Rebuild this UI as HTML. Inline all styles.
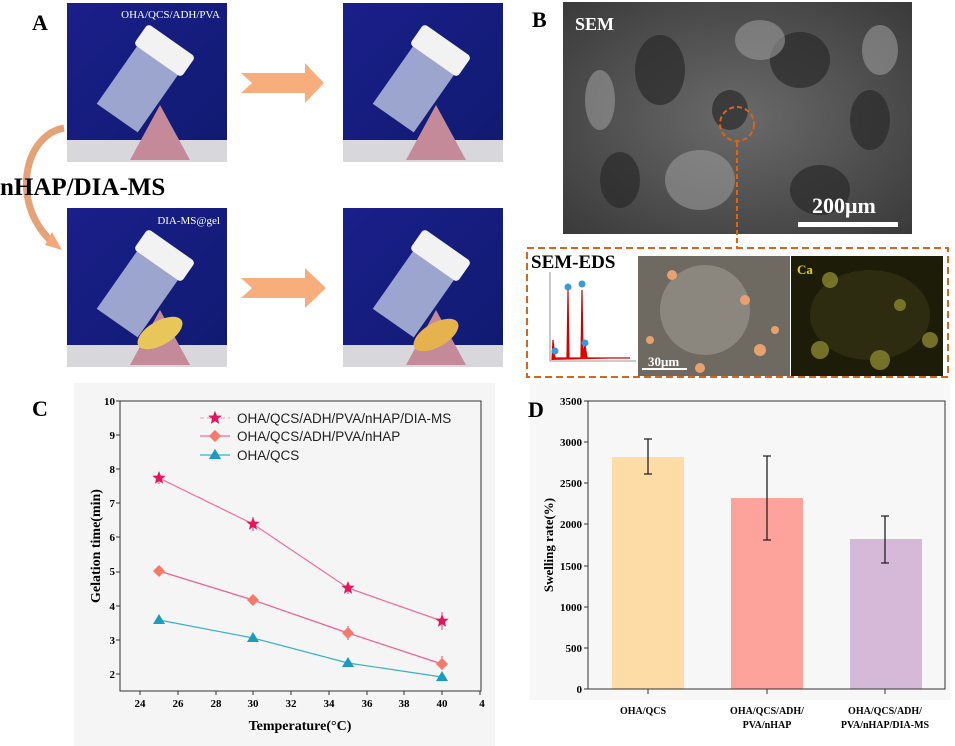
<!DOCTYPE html><html><head><style>body{margin:0;background:#fff}svg{display:block}</style></head><body>
<svg width="955" height="746" viewBox="0 0 955 746" xmlns="http://www.w3.org/2000/svg" font-family="Liberation Serif, serif">
<defs>
<linearGradient id="blue" x1="0" y1="0" x2="1" y2="1"><stop offset="0" stop-color="#1a1f8a"/><stop offset="1" stop-color="#101a70"/></linearGradient>
<radialGradient id="sem" cx="0.5" cy="0.5" r="0.7"><stop offset="0" stop-color="#6a6a6a"/><stop offset="1" stop-color="#3a3a3a"/></radialGradient>
<polygon id="st" fill="#e8135f" points="0,-7 1.8,-2.4 6.7,-2.2 2.9,0.9 4.1,5.7 0,3 -4.1,5.7 -2.9,0.9 -6.7,-2.2 -1.8,-2.4"/>
<g id="ph">
<rect x="67" y="3" width="160" height="159" fill="url(#blue)"/>
<rect x="67" y="140" width="160" height="22" fill="#d8d8dc"/>
<polygon points="130,160 160,105 190,160" fill="#c48a9a"/>
<g transform="rotate(35 150 80)"><rect x="120" y="55" width="50" height="75" fill="#c9d3ea" opacity="0.75"/><rect x="116" y="35" width="58" height="25" rx="4" fill="#f2f2f2"/></g>
</g>
</defs>
<rect width="955" height="746" fill="#fff"/>
<!-- Panel A -->
<text x="32" y="30" font-size="22" font-weight="bold">A</text>
<use href="#ph"/>
<use href="#ph" x="276" y="0"/>
<use href="#ph" x="0" y="205"/>
<use href="#ph" x="276" y="205"/>
<ellipse cx="160" cy="333" rx="25" ry="12" fill="#e8c65a" transform="rotate(-30 160 333)"/>
<ellipse cx="436" cy="335" rx="25" ry="12" fill="#e5b24e" transform="rotate(-30 436 335)"/>
<text x="220" y="18" font-size="11" fill="#fff" text-anchor="end">OHA/QCS/ADH/PVA</text>
<text x="220" y="224" font-size="11" fill="#fff" text-anchor="end">DIA-MS@gel</text>
<polygon points="241,73 305,73 305,63 324,83 305,103 305,93 241,93 252,83" fill="#f7ae7c"/>
<polygon points="241,278 305,278 305,268 326,288 305,308 305,298 241,298 252,288" fill="#f7ae7c"/>
<path d="M64,128 C25,135 10,200 50,240" stroke="#e4a276" stroke-width="7" fill="none"/>
<polygon points="45,245 62,250 52,232" fill="#f5a87a"/>
<text x="0" y="195" font-size="25" font-weight="bold">nHAP/DIA-MS</text>
<!-- Panel B -->
<text x="532" y="27" font-size="22" font-weight="bold">B</text>
<rect x="563" y="2" width="349" height="232" fill="url(#sem)"/>
<g fill="#2a2a2a" opacity="0.7"><ellipse cx="660" cy="70" rx="25" ry="35"/><ellipse cx="800" cy="60" rx="30" ry="28"/><ellipse cx="870" cy="120" rx="20" ry="30"/><ellipse cx="730" cy="110" rx="18" ry="20"/><ellipse cx="820" cy="190" rx="30" ry="25"/><ellipse cx="620" cy="180" rx="20" ry="28"/></g>
<g fill="#9a9a9a" opacity="0.6"><ellipse cx="700" cy="180" rx="35" ry="30"/><ellipse cx="760" cy="40" rx="25" ry="20"/><ellipse cx="880" cy="50" rx="18" ry="25"/><ellipse cx="600" cy="100" rx="15" ry="30"/></g>
<text x="575" y="30" font-size="18" font-weight="bold" fill="#fff">SEM</text>
<text x="812" y="213" font-size="22" font-weight="bold" fill="#fff">200μm</text>
<rect x="798" y="222" width="100" height="5" fill="#fff"/>
<circle cx="737" cy="124" r="17" fill="none" stroke="#d8651e" stroke-width="2" stroke-dasharray="5,3"/>
<path d="M737,142 V247" stroke="#d8651e" stroke-width="2" stroke-dasharray="5,3"/>
<rect x="527" y="248" width="421" height="129" fill="none" stroke="#d8651e" stroke-width="2" stroke-dasharray="7,4"/>
<text x="531" y="268" font-size="19" font-weight="bold">SEM-EDS</text>
<rect x="537" y="270" width="99" height="92" fill="#fff"/>
<path d="M550,272 V361 H636" stroke="#777" fill="none" stroke-width="0.8"/>
<path d="M552,360 L553,340 L555,358 L567,358 L568,290 L569,358 L581,358 L582,290 L583,355 L585,345 L587,358 L630,358" stroke="#d40000" fill="#e00" stroke-width="1.2"/>
<circle cx="568" cy="287" r="3.5" fill="#3a9ad8"/><circle cx="582" cy="284" r="3.5" fill="#3a9ad8"/><circle cx="585" cy="343" r="3.5" fill="#3a9ad8"/><circle cx="555" cy="351" r="3.5" fill="#3a9ad8"/>
<rect x="638" y="256" width="152" height="120" fill="#6e6a62"/>
<ellipse cx="705" cy="310" rx="45" ry="45" fill="#8b877f"/>
<g fill="#e8a070"><circle cx="672" cy="275" r="5"/><circle cx="745" cy="300" r="5"/><circle cx="700" cy="368" r="5"/><circle cx="760" cy="350" r="6"/><circle cx="650" cy="340" r="4"/><circle cx="775" cy="330" r="4"/></g>
<text x="648" y="366" font-size="13" font-weight="bold" fill="#fff">30μm</text>
<rect x="642" y="368" width="45" height="2" fill="#fff"/>
<rect x="791" y="256" width="152" height="120" fill="#1d1c08"/>
<ellipse cx="870" cy="315" rx="60" ry="45" fill="#2e2c10"/>
<g fill="#8a8630" opacity="0.8"><circle cx="830" cy="280" r="8"/><circle cx="900" cy="305" r="6"/><circle cx="820" cy="350" r="9"/><circle cx="880" cy="360" r="10"/><circle cx="930" cy="340" r="8"/></g>
<text x="797" y="274" font-size="13" font-weight="bold" fill="#e0d000">Ca</text>
<!-- Panel C -->
<rect x="74" y="383" width="421" height="363" fill="#f5f5f5"/>
<text x="32" y="416" font-size="22" font-weight="bold">C</text>
<rect x="120" y="401" width="361" height="290" fill="none" stroke="#333" stroke-width="1"/>
<g font-size="11" font-weight="bold" text-anchor="end">
<text x="115" y="405">10</text><text x="115" y="439">9</text><text x="115" y="473">8</text><text x="115" y="507">7</text><text x="115" y="541">6</text><text x="115" y="575">5</text><text x="115" y="610">4</text><text x="115" y="644">3</text><text x="115" y="678">2</text>
</g>
<g stroke="#333"><path d="M120,401h-4M120,435h-4M120,469h-4M120,503h-4M120,537h-4M120,572h-4M120,606h-4M120,640h-4M120,674h-4"/>
<path d="M140,691v4M178,691v4M216,691v4M253,691v4M291,691v4M329,691v4M367,691v4M404,691v4M442,691v4M480,691v4"/></g>
<g font-size="11" font-weight="bold" text-anchor="middle">
<text x="140" y="707">24</text><text x="178" y="707">26</text><text x="216" y="707">28</text><text x="253" y="707">30</text><text x="291" y="707">32</text><text x="329" y="707">34</text><text x="367" y="707">36</text><text x="404" y="707">38</text><text x="442" y="707">40</text><text x="482" y="707">4</text>
</g>
<text x="300" y="730" font-size="14" font-weight="bold" text-anchor="middle">Temperature(°C)</text>
<text transform="translate(100,546) rotate(-90)" font-size="14" font-weight="bold" text-anchor="middle">Gelation time(min)</text>
<polyline points="159,478 253,524 348,588 442,621" fill="none" stroke="#f06b9a" stroke-width="1.2"/>
<polyline points="159,571 253,600 348,633 442,664" fill="none" stroke="#f0608c" stroke-width="1.2"/>
<polyline points="159,620 253,638 348,663 442,677" fill="none" stroke="#3ab0c8" stroke-width="1.2"/>
<g stroke="#e0407a" stroke-width="1"><path d="M442,612v18M348,582v12M253,517v14M159,472v12M442,656v14M348,626v14"/></g>
<use href="#st" x="159" y="478"/><use href="#st" x="253" y="524"/><use href="#st" x="348" y="588"/><use href="#st" x="442" y="621"/><use href="#st" x="215" y="418"/>
<g fill="#f57a6a"><polygon points="159,565 165,571 159,577 153,571"/><polygon points="253,594 259,600 253,606 247,600"/><polygon points="348,627 354,633 348,639 342,633"/><polygon points="442,658 448,664 442,670 436,664"/><polygon points="215,430 221,436 215,442 209,436"/></g>
<g fill="#1a9cc0"><polygon points="159,614 165,624 153,624"/><polygon points="253,632 259,642 247,642"/><polygon points="348,657 354,667 342,667"/><polygon points="442,671 448,681 436,681"/><polygon points="215,449 221,459 209,459"/></g>
<path d="M200,418h30" stroke="#f8a8c8" stroke-width="1.2" stroke-dasharray="4,3"/>
<path d="M200,436h30" stroke="#f06b9a" stroke-width="1.2"/>
<path d="M200,455h30" stroke="#3ab0c8" stroke-width="1.2"/>
<use href="#st" x="215" y="418"/>
<polygon points="215,430 221,436 215,442 209,436" fill="#f57a6a"/>
<polygon points="215,449 221,459 209,459" fill="#1a9cc0"/>
<g font-family="Liberation Sans, sans-serif" font-size="13.5" fill="#222">
<text x="237" y="423">OHA/QCS/ADH/PVA/nHAP/DIA-MS</text><text x="237" y="441">OHA/QCS/ADH/PVA/nHAP</text><text x="237" y="460">OHA/QCS</text></g>
<!-- Panel D -->
<rect x="530" y="383" width="420" height="317" fill="#f7f7f7"/>
<text x="528" y="417" font-size="22" font-weight="bold">D</text>
<rect x="612" y="457" width="72" height="232" fill="#fddca6"/>
<rect x="731" y="498" width="72" height="191" fill="#fda39b"/>
<rect x="850" y="539" width="72" height="150" fill="#d6b8d8"/>
<rect x="588" y="401" width="357" height="288" fill="none" stroke="#333" stroke-width="1"/>
<g stroke="#222" stroke-width="1.3"><path d="M648,439v35M644,439h8M644,474h8"/><path d="M767,456v84M763,456h8M763,540h8"/><path d="M885,516v47M881,516h8M881,563h8"/></g>
<g stroke="#333"><path d="M588,401h-4M588,442h-4M588,483h-4M588,524h-4M588,566h-4M588,607h-4M588,648h-4M588,689h-4M648,689v5M767,689v5M885,689v5"/></g>
<g font-size="11" font-weight="bold" text-anchor="end">
<text x="582" y="405">3500</text><text x="582" y="446">3000</text><text x="582" y="487">2500</text><text x="582" y="528">2000</text><text x="582" y="570">1500</text><text x="582" y="611">1000</text><text x="582" y="652">500</text><text x="582" y="693">0</text></g>
<text transform="translate(553,545) rotate(-90)" font-size="13" font-weight="bold" text-anchor="middle">Swelling rate(%)</text>
<g font-size="10" font-weight="bold" text-anchor="middle">
<text x="643" y="714">OHA/QCS</text><text x="767" y="714">OHA/QCS/ADH/</text><text x="767" y="728">PVA/nHAP</text><text x="885" y="714">OHA/QCS/ADH/</text><text x="885" y="728">PVA/nHAP/DIA-MS</text></g>
</svg>
</body></html>
